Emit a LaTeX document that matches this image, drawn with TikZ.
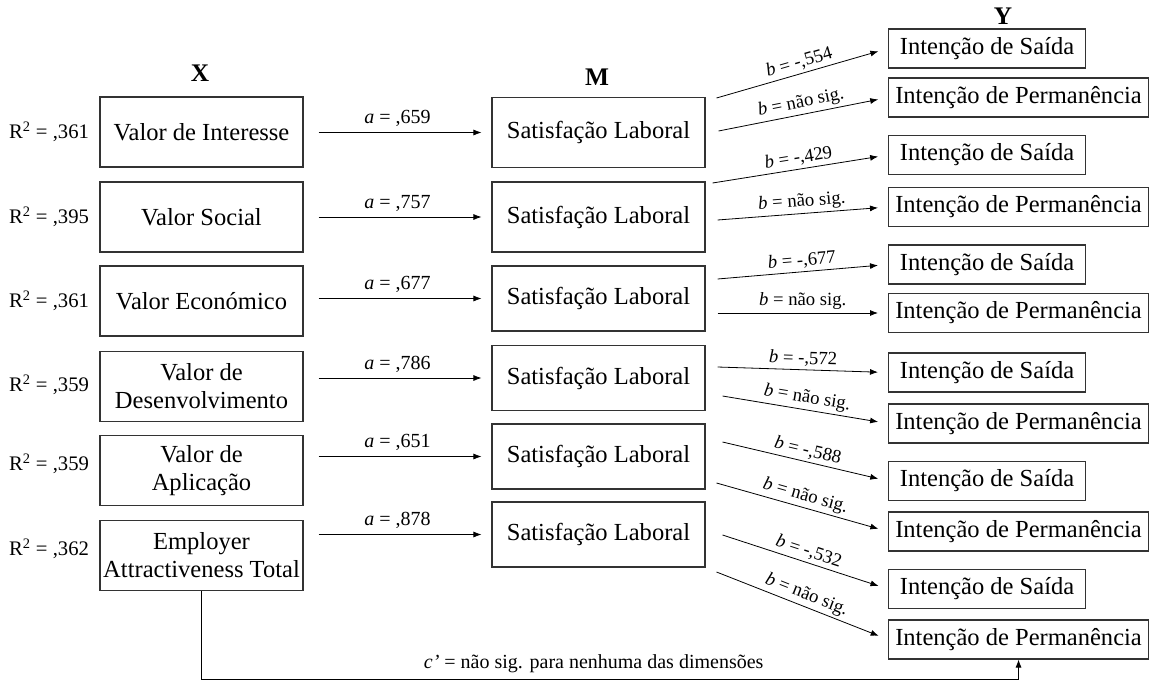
\documentclass[tikz,border=0pt]{standalone}
\usepackage{fontspec}
\setmainfont{Liberation Serif}
\usetikzlibrary{arrows.meta,calc}
\begin{document}
\begin{tikzpicture}
[x=0.75pt,y=-0.75pt,
 every node/.style={inner sep=0pt},
 box/.style={draw=black!80, line width=0.8pt, font=\fontsize{18.4}{21}\selectfont, align=center},
 xbox/.style={box, minimum width=152.25pt, minimum height=52.5pt},
 mbox/.style={box, minimum width=159.75pt, minimum height=48.75pt},
 sbox/.style={box, anchor=west, minimum width=147.75pt, minimum height=29.25pt},
 pbox/.style={box, anchor=west, minimum width=195pt, minimum height=29.25pt},
 head/.style={font=\fontsize{19}{21}\bfseries\selectfont},
 lab/.style={font=\fontsize{15}{17}\selectfont},
 blab/.style={font=\fontsize{14}{16}\selectfont, sloped, above=2pt},
 rlab/.style={font=\fontsize{15.5}{17}\selectfont},
 arr/.style={-{Latex[length=6pt,width=4.5pt]}, line width=0.6pt}]
\useasboundingbox (0,0) rectangle (1153,682);
% headers
\node[head] (hx) at (200,73.5) {X};
\node[head] (hm) at (597,77) {M};
\node[head] (hy) at (1003,16) {Y};
% X column
\node[xbox] (x1) at (201.5,132) {Valor de Interesse};
\node[xbox] (x2) at (201.5,217) {Valor Social};
\node[xbox] (x3) at (201.5,301) {Valor Económico};
\node[xbox] (x4) at (201.5,386.5) {Valor de\\Desenvolvimento};
\node[xbox] (x5) at (201.5,470.5) {Valor de\\Aplicação};
\node[xbox] (x6) at (201.5,555.5) {Employer\\Attractiveness Total};
\node[rlab] (r1) at (49,132) {R\textsuperscript{2} = ,361};
\node[rlab] (r2) at (49,217) {R\textsuperscript{2} = ,395};
\node[rlab] (r3) at (49,301) {R\textsuperscript{2} = ,361};
\node[rlab] (r4) at (49,385) {R\textsuperscript{2} = ,359};
\node[rlab] (r5) at (49,464) {R\textsuperscript{2} = ,359};
\node[rlab] (r6) at (49,549) {R\textsuperscript{2} = ,362};
% M column
\node[mbox, minimum height=52.5pt] (m1) at (598.5,132.5) {Satisfação Laboral};
\node[mbox, minimum height=52.5pt] (m2) at (598.5,217) {Satisfação Laboral};
\node[mbox] (m3) at (598.5,298.5) {Satisfação Laboral};
\node[mbox] (m4) at (598.5,378) {Satisfação Laboral};
\node[mbox] (m5) at (598.5,456.5) {Satisfação Laboral};
\node[mbox] (m6) at (598.5,534.5) {Satisfação Laboral};
% Y column
\node[sbox] (s1) at (888,48.5) {Intenção de Saída};
\node[pbox] (p1) at (888,97.5) {Intenção de Permanência};
\node[sbox] (s2) at (888,155) {Intenção de Saída};
\node[pbox] (p2) at (888,207) {Intenção de Permanência};
\node[sbox] (s3) at (888,264.5) {Intenção de Saída};
\node[pbox] (p3) at (888,313) {Intenção de Permanência};
\node[sbox] (s4) at (888,372.5) {Intenção de Saída};
\node[pbox] (p4) at (888,423.5) {Intenção de Permanência};
\node[sbox] (s5) at (888,481) {Intenção de Saída};
\node[pbox] (p5) at (888,531.5) {Intenção de Permanência};
\node[sbox] (s6) at (888,589) {Intenção de Saída};
\node[pbox] (p6) at (888,639.5) {Intenção de Permanência};
% a paths
\draw[arr, shorten <=11.25pt, shorten >=7.5pt] (x1.east |- m1.west) -- node[lab, above=4pt] {\textit{a} = ,659} (m1.west);
\draw[arr, shorten <=11.25pt, shorten >=7.5pt] (x2.east |- m2.west) -- node[lab, above=4pt] {\textit{a} = ,757} (m2.west);
\draw[arr, shorten <=11.25pt, shorten >=7.5pt] (x3.east |- m3.west) -- node[lab, above=4pt] {\textit{a} = ,677} (m3.west);
\draw[arr, shorten <=11.25pt, shorten >=7.5pt] (x4.east |- m4.west) -- node[lab, above=4pt] {\textit{a} = ,786} (m4.west);
\draw[arr, shorten <=11.25pt, shorten >=7.5pt] (x5.east |- m5.west) -- node[lab, above=4pt] {\textit{a} = ,651} (m5.west);
\draw[arr, shorten <=11.25pt, shorten >=7.5pt] (x6.east |- m6.west) -- node[lab, above=4pt] {\textit{a} = ,878} (m6.west);
% b paths
\draw[arr, shorten >=7.5pt] ($(m1.east)+(11,-34.5)$) -- node[blab] {\textit{b} = -,554} (s1.west);
\draw[arr, shorten >=7.5pt] ($(m1.east)+(13,-1.5)$) -- node[blab] {\textit{b} = não sig.} (p1.west);
\draw[arr, shorten >=7.5pt] ($(m2.east)+(7,-34)$) -- node[blab] {\textit{b} = -,429} (s2.west);
\draw[arr, shorten >=7.5pt] ($(m2.east)+(12,3)$) -- node[blab] {\textit{b} = não sig.} (p2.west);
\draw[arr, shorten >=7.5pt] ($(m3.east)+(12,-19.5)$) -- node[blab] {\textit{b} = -,677} (s3.west);
\draw[arr, shorten >=7.5pt] ($(m3.east)+(12,14.5)$) -- node[blab] {\textit{b} = não sig.} (p3.west);
\draw[arr, shorten >=7.5pt] ($(m4.east)+(12,-11)$) -- node[blab] {\textit{b} = -,572} (s4.west);
\draw[arr, shorten >=7.5pt] ($(m4.east)+(17,18)$) -- node[blab] {\textit{b} = não sig.} (p4.west);
\draw[arr, shorten >=7.5pt] ($(m5.east)+(17,-14.5)$) -- node[blab] {\textit{b} = -,588} (s5.west);
\draw[arr, shorten >=7.5pt] ($(m5.east)+(11,26.5)$) -- node[blab] {\textit{b} = não sig.} (p5.west);
\draw[arr, shorten >=7.5pt] ($(m6.east)+(17,0.5)$) -- node[blab] {\textit{b} = -,532} (s6.west);
\draw[arr, shorten >=7.5pt] ($(m6.east)+(11,37.5)$) -- node[blab] {\textit{b} = não sig.} (p6.west);
% c' path
\draw[arr] (x6.south) -- ++(0,88) coordinate (c1) -| node[lab, pos=0.24, above=4pt] {\textit{c’} = não sig. para nenhuma das dimensões} (p6.south);
\end{tikzpicture}
\end{document}
